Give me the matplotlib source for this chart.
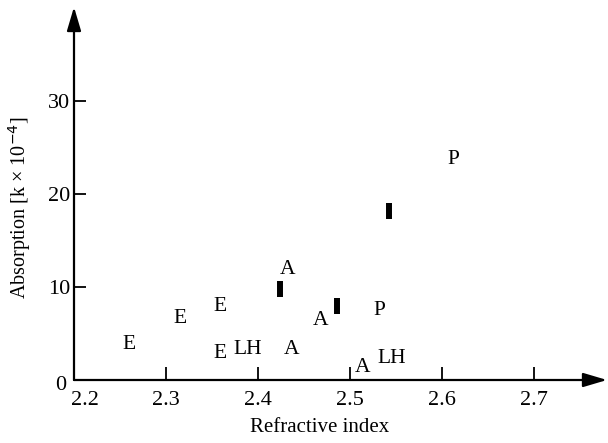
import matplotlib
matplotlib.use("Agg")
import matplotlib.pyplot as plt
from matplotlib.transforms import ScaledTranslation

plt.rcParams['font.family'] = ['Liberation Serif', 'DejaVu Serif']

# Labelled samples: refractive index, absorption (k x 10^-4), label
label_x = [2.260, 2.315, 2.359, 2.359, 2.389, 2.432, 2.436, 2.468, 2.514, 2.532, 2.545, 2.612]
label_y = [4.1, 6.9, 8.2, 3.1, 3.5, 12.2, 3.6, 6.7, 1.6, 7.7, 2.6, 24.0]
label_txt = ['E', 'E', 'E', 'E', 'LH', 'A', 'A', 'A', 'A', 'P', 'LH', 'P']

# Filled bar markers
bar_x = [2.424, 2.486, 2.542]
bar_y = [9.8, 8.0, 18.2]

x_ticks = [2.2, 2.3, 2.4, 2.5, 2.6, 2.7]
x_ticklabels = ['2.2', '2.3', '2.4', '2.5', '2.6', '2.7']
y_ticks = [0, 10, 20, 30]
y_ticklabels = ['0', '10', '20', '30']

W, H = 608, 443
fig = plt.figure(figsize=(W / 100, H / 100), dpi=100)
x0, y0, x1, y1 = 74, 380, 607, 7
ax = fig.add_axes([x0 / W, (H - y0) / H, (x1 - x0) / W, (y0 - y1) / H])
ax.set_xlim(2.2, 2.2 + (x1 - x0) / 920)
ax.set_ylim(0, (y0 - y1) / 9.3)

for s in ax.spines.values():
    s.set_visible(False)

arrow = dict(arrowstyle='-|>,head_length=1.45,head_width=0.43', color='black',
             lw=1.6, shrinkA=0, shrinkB=0)
ax.annotate('', xy=(1, 0), xytext=(0, 0), xycoords='axes fraction',
            textcoords='axes fraction', arrowprops=arrow, annotation_clip=False)
ax.annotate('', xy=(0, 1), xytext=(0, 0), xycoords='axes fraction',
            textcoords='axes fraction', arrowprops=arrow, annotation_clip=False)

tick_fs = 16
ax.set_xticks(x_ticks[1:])
ax.set_xticklabels(x_ticklabels[1:])
ax.set_yticks(y_ticks[1:])
ax.set_yticklabels(y_ticklabels[1:])
ax.tick_params(axis='x', direction='in', length=9.5, width=1.3, pad=8.0, labelsize=tick_fs)
ax.tick_params(axis='y', direction='in', length=8.5, width=1.3, pad=2.5, labelsize=tick_fs)

# origin labels
ax.text(x_ticks[0], 0, x_ticklabels[0], fontsize=tick_fs, ha='center', va='top',
        transform=ax.transData + ScaledTranslation(11 / 100, -11 / 100, fig.dpi_scale_trans))
ax.text(x_ticks[0], 0, y_ticklabels[0], fontsize=tick_fs, ha='right', va='center_baseline',
        transform=ax.transData + ScaledTranslation(-8 / 100, -3 / 100, fig.dpi_scale_trans))

for x, y, t in zip(label_x, label_y, label_txt):
    ax.text(x, y, t, fontsize=15.5, ha='center', va='center_baseline')

ax.plot(bar_x, bar_y, linestyle='none', marker='|', markersize=11,
        markeredgewidth=4.3, color='black')

fig.text(320 / W, 1 - 428 / H, 'Refractive index', fontsize=15, ha='center', va='center')
fig.text(20 / W, 1 - 208 / H, 'Absorption [k × 10$^{-4}$]', fontsize=14.5,
         ha='center', va='center', rotation=90)

fig.savefig('out.png', dpi=100)
